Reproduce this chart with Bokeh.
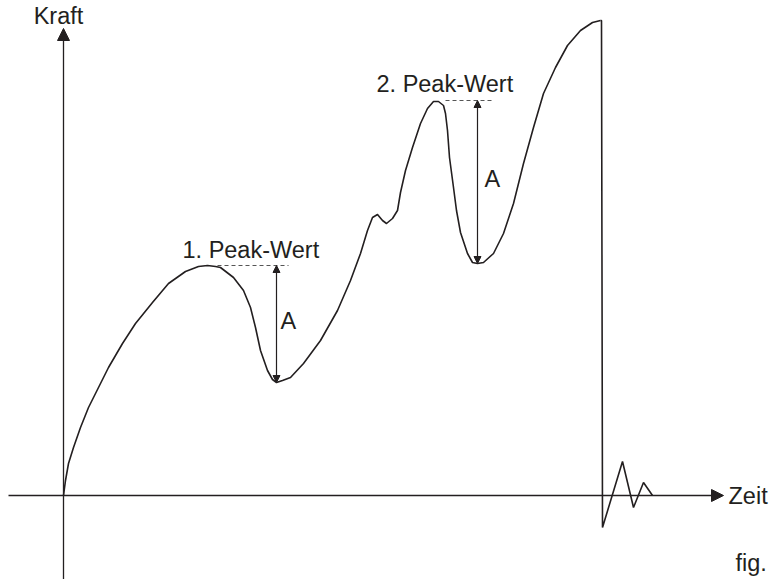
from bokeh.plotting import figure
from bokeh.models import Range1d, Arrow, NormalHead
from bokeh.core.properties import value
from bokeh.embed import file_html
from bokeh.resources import INLINE

# Force curve (time, force)
zeit = [0, 2, 5, 10, 17, 25, 35, 45, 59, 72, 89, 105, 122, 135, 144, 152, 157, 170, 180, 187,
        192, 197, 204, 209, 213, 219, 227, 240, 257, 274, 287, 297, 304, 309, 314, 319, 323,
        329, 334, 337, 342, 349, 357, 364, 370, 375, 380, 382, 384, 386, 390, 393, 397, 404,
        409, 414, 420, 430, 440, 450, 460, 470, 480, 492, 504, 517, 529, 537]
kraft = [0, 15, 32, 48, 68, 88, 108, 128, 152, 172, 193, 212, 224, 229, 230, 229, 228, 218, 205, 188,
         168, 145, 125, 116, 113, 115, 118, 132, 155, 185, 215, 242, 265, 278, 281, 275, 272,
         277, 285, 303, 325, 348, 372, 387, 394, 394, 390, 382, 365, 338, 308, 285, 263, 242,
         233, 232, 233, 242, 262, 292, 332, 368, 402, 428, 450, 465, 473, 475]

# drop at break and oscillation after break
bruch_zeit = [537, 538, 539, 559, 570, 580, 589]
bruch_kraft = [475, 475, -32, 34, -12, 13, 0]

# peaks and valleys
peak1_t, peak1_f = 144, 230
tal1_t, tal1_f = 213, 113
peak2_t, peak2_f = 373, 395
tal2_t, tal2_f = 414, 232

ink = "#231f20"

p = figure(width=772, height=579, output_backend="svg", toolbar_location=None,
           x_range=Range1d(-63, 709), y_range=Range1d(-84, 495),
           x_axis_location=None, y_axis_location=None, min_border=0)
p.grid.visible = False
p.outline_line_color = None
p.background_fill_color = "white"

font = value("Liberation Sans")
fs = "23.5px"

# axes with arrow heads
p.add_layout(Arrow(end=NormalHead(size=12, fill_color=ink, line_color=ink),
                   x_start=-55, y_start=0, x_end=660, y_end=0,
                   line_color=ink, line_width=1.3))
p.add_layout(Arrow(end=NormalHead(size=12, fill_color=ink, line_color=ink),
                   x_start=0, y_start=-84, x_end=0, y_end=467,
                   line_color=ink, line_width=1.3))

# curve
p.line(zeit, kraft, line_color=ink, line_width=1.6, line_join="round")
p.line(bruch_zeit, bruch_kraft, line_color=ink, line_width=1.6)

# dashed peak levels
p.line([peak1_t + 10, 225], [peak1_f, peak1_f], line_color="#555555", line_width=1.2, line_dash="4 3")
p.line([peak2_t + 9, 431], [peak2_f, peak2_f], line_color="#555555", line_width=1.2, line_dash="4 3")

# double arrows A
for t, f_top, f_bot in [(tal1_t, peak1_f, tal1_f), (tal2_t, peak2_f, tal2_f)]:
    p.add_layout(Arrow(start=NormalHead(size=7, fill_color=ink, line_color=ink),
                       end=NormalHead(size=7, fill_color=ink, line_color=ink),
                       x_start=t, y_start=f_top, x_end=t, y_end=f_bot,
                       line_color=ink, line_width=1.2))

# labels
p.text(x=[-5], y=[480], text=["Kraft"], text_align="center", text_baseline="alphabetic",
       text_font=font, text_font_size=fs, text_color=ink)
p.text(x=[119], y=[246], text=["1. Peak-Wert"], text_align="left", text_baseline="alphabetic",
       text_font=font, text_font_size=fs, text_color=ink)
p.text(x=[313], y=[412], text=["2. Peak-Wert"], text_align="left", text_baseline="alphabetic",
       text_font=font, text_font_size=fs, text_color=ink)
p.text(x=[217, 421], y=[175, 317], text=["A", "A"], text_align="left", text_baseline="middle",
       text_font=font, text_font_size=fs, text_color=ink)
p.text(x=[665], y=[0], text=["Zeit"], text_align="left", text_baseline="middle",
       text_font=font, text_font_size=fs, text_color=ink)
p.text(x=[672], y=[-67], text=["fig."], text_align="left", text_baseline="alphabetic",
       text_font=font, text_font_size=fs, text_color=ink)

open("out.html", "w").write(file_html(p, INLINE))
